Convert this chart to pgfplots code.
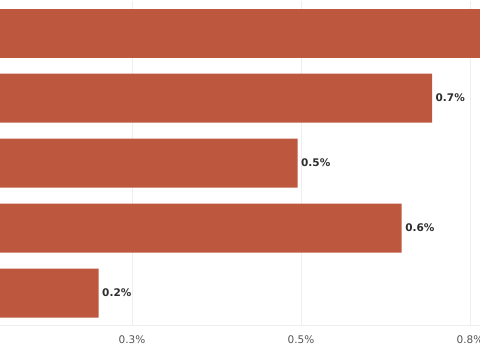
\documentclass[border=0pt]{standalone}
\usepackage{pgfplots}
\pgfplotsset{compat=1.18}
\usepackage{fontspec}
\setmainfont{DejaVu Sans}
\definecolor{barc}{RGB}{189,87,61}
\definecolor{lab}{RGB}{45,45,45}
\definecolor{tick}{RGB}{85,85,85}
\definecolor{gridc}{RGB}{238,238,238}
\begin{document}
\begin{tikzpicture}
\begin{axis}[
  at={(0pt,0pt)}, anchor=south west,
  scale only axis,
  width=480pt, height=325pt,
  xbar, bar width=49pt,
  xmin=0.0547, xmax=0.7648,
  ymin=-0.5, ymax=4.5,
  axis y line=none,
  axis x line*=bottom,
  axis line style={draw=gridc, line width=0.6pt},
  xtick={0.25,0.5,0.75},
  xticklabels={0.3\%,0.5\%,0.8\%},
  major tick length=0pt,
  xmajorgrids,
  major grid style={draw=gridc, line width=0.6pt},
  ytick=\empty,
  /pgf/number format/assume math mode=true,
  xticklabel style={font=\fontsize{10.5}{12}\selectfont, text=tick, yshift=-7pt},
  point meta=x,
  nodes near coords style={font=\bfseries\fontsize{10.5}{12}\selectfont, text=lab, anchor=west, xshift=0pt},
]
\addplot[fill=barc, draw=none, bar shift=0pt] coordinates {(0.85,4)};
\addplot[fill=barc, draw=none, bar shift=0pt,
  nodes near coords={\pgfmathprintnumber[fixed,zerofill,precision=1]{\pgfplotspointmeta}\%}]
  coordinates {(0.694,3) (0.495,2) (0.649,1) (0.2007,0)};
\end{axis}
\pgfresetboundingbox
\path[use as bounding box] (0pt,-34.5pt) rectangle (480pt,325.5pt);
\end{tikzpicture}
\end{document}
